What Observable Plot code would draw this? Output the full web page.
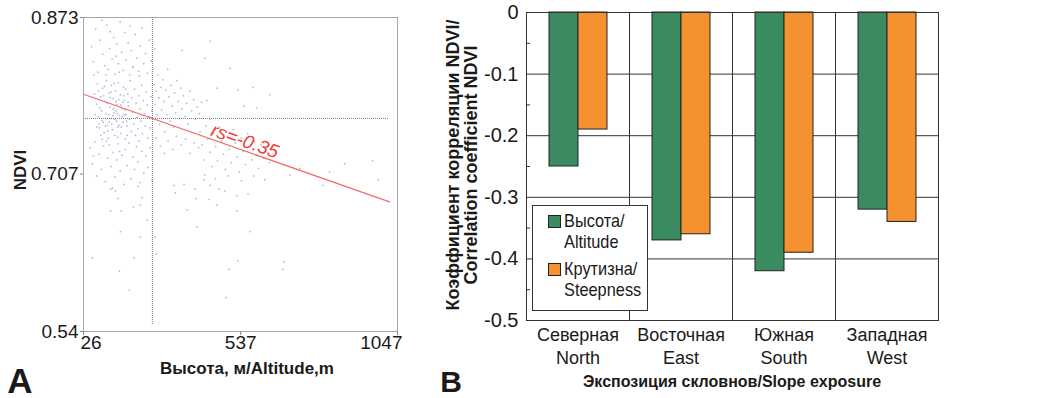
<!DOCTYPE html>
<html><head><meta charset="utf-8">
<script src="https://cdn.jsdelivr.net/npm/d3@7"></script>
<script src="https://cdn.jsdelivr.net/npm/@observablehq/plot@0.6"></script>
<style>
body{margin:0;background:#fff;}
#wrap{position:relative;width:1051px;height:398px;overflow:hidden;font-family:"Liberation Sans",Arial,sans-serif;color:#1a1a1a;}
.pa,.pb{position:absolute;top:0;}
.pa{left:0;} .pb{left:420px;}
.lbl{position:absolute;white-space:nowrap;transform:translate(-50%,-50%);line-height:1;}
.rot{transform:translate(-50%,-50%) rotate(-90deg);}
.b{font-weight:bold;}
.legend{position:absolute;left:532px;top:205px;width:114px;height:104px;border:1px solid #333;background:#fff;font-size:19px;line-height:21px;}
.sw{position:absolute;left:15px;width:11px;height:11px;border:1px solid #222;}
.lt{position:absolute;left:31px;transform:scaleX(0.86);transform-origin:0 0;white-space:nowrap;}
</style></head><body><div id="wrap"></div>
<script>
// ---------- Panel A data ----------
const xTicksA = [26, 537, 1047];
const yTicksA = [0.54, 0.707, 0.873];
const meanAltitude = 250;
const meanNdvi = 0.766;
const regression = [[26, 0.7916], [1021, 0.6774]];
const rsLabel = "rs=-0.35";
const samples = [
[62,.792],[68,.781],[71,.803],[75,.768],[78,.756],[82,.789],[85,.774],[88,.798],[90,.762],[93,.751],[96,.784],[99,.771],[101,.806],[104,.759],[107,.745],[109,.793],[112,.778],[115,.766],[117,.801],[120,.754],[122,.787],[125,.772],[127,.748],[130,.795],[133,.763],[135,.781],[138,.757],[140,.804],[143,.769],[146,.791],[148,.750],[151,.776],[154,.762],[156,.799],[159,.785],[162,.744],[164,.770],[167,.758],[170,.792],[172,.779],[175,.765],[178,.806],[181,.752],[183,.788],[186,.773],[189,.760],[192,.797],[195,.748],[197,.782],[200,.767],[203,.755],[206,.790],[209,.776],[212,.763],[215,.801],[218,.750],[221,.785],[224,.771],[227,.758],[230,.794],[233,.780],[236,.745],[239,.768],[242,.756],[245,.789],[248,.774],
[74,.795],[79,.777],[86,.764],[92,.790],[97,.758],[103,.782],[108,.770],[113,.788],[118,.760],[123,.776],[128,.765],[132,.784],[137,.771],[142,.759],[147,.780],[152,.768],[157,.790],[161,.775],[166,.763],[171,.783],[76,.760],[83,.748],[94,.800],[105,.753],[116,.794],[126,.803],[136,.746],[149,.757],[158,.770],[168,.748],[64,.770],[70,.757],[87,.744],[98,.766],[110,.762],[121,.769],[131,.774],[141,.786],[153,.783],[163,.797],
[52,.842],[58,.826],[66,.861],[73,.815],[80,.849],[89,.834],[95,.822],[102,.865],[106,.818],[111,.840],[119,.829],[124,.852],[129,.813],[134,.845],[139,.824],[145,.868],[150,.836],[155,.817],[160,.857],[165,.828],[171,.846],[176,.812],[182,.838],[188,.821],[194,.855],[199,.830],[205,.816],[211,.843],[216,.862],[222,.824],[228,.835],[234,.814],[240,.849],[246,.827],[253,.818],[258,.840],[87,.870],[113,.858],[142,.815],[177,.864],[208,.811],[60,.812],[99,.812],[132,.832],[186,.820],
[255,.802],[258,.781],[262,.795],[265,.770],[268,.812],[271,.788],[274,.760],[277,.799],[280,.775],[284,.807],[287,.784],[290,.752],[293,.796],[297,.770],[300,.818],[304,.789],[308,.763],[311,.801],[315,.779],[319,.757],[322,.793],[326,.772],[330,.806],[334,.784],[338,.766],[342,.798],[346,.776],[351,.790],[356,.768],[361,.782],[366,.760],[372,.795],[378,.774],[384,.786],[390,.765],[396,.778],[403,.771],[410,.783],[416,.766],[262,.745],[276,.737],[289,.729],[301,.742],[316,.733],[328,.747],[344,.738],[358,.744],[372,.729],[386,.740],[400,.735],
[48,.735],[55,.718],[63,.741],[69,.705],[77,.728],[84,.712],[91,.737],[97,.699],[104,.724],[110,.738],[116,.715],[122,.730],[128,.704],[134,.722],[139,.739],[145,.710],[151,.727],[157,.696],[162,.733],[168,.716],[174,.740],[180,.702],[186,.725],[192,.712],[198,.736],[204,.720],[210,.698],[216,.731],[222,.708],[229,.726],[236,.714],[243,.735],[249,.700],[58,.726],[101,.742],[143,.731],[207,.742],[120,.692],
[405,.752],[412,.738],[418,.722],[424,.758],[430,.744],[437,.730],[443,.715],[449,.750],[456,.736],[462,.721],[468,.757],[475,.742],[481,.728],[487,.712],[494,.747],[500,.733],[507,.719],[513,.754],[520,.740],[526,.725],[533,.709],[539,.745],[546,.731],[553,.717],[560,.750],[567,.736],[574,.722],[581,.741],[588,.727],[595,.713],[603,.738],[611,.724],[620,.734],[631,.719],[420,.706],[455,.702],[497,.705],[540,.700],[580,.705],[438,.765],
[438,.848],[421,.830],[347,.838],[460,.798],[548,.779],[590,.777],[622,.736],[502,.819],[528,.796],[577,.799],[428,.785],[632,.791],
[114,.691],[130,.689],[139,.681],[204,.694],[217,.682],[188,.672],[211,.674],[114,.668],[149,.668],[233,.658],[146,.646],[211,.640],[321,.695],[324,.687],[353,.696],[363,.669],[55,.618],[191,.618],[143,.604],[175,.584],[263,.622],[259,.640],[418,.701],[438,.695],[389,.691],[467,.691],[486,.689],[392,.681],[434,.680],[460,.674],[525,.684],[561,.686],[525,.668],[395,.651],[567,.646],[528,.615],[499,.606],[677,.614],[674,.606],[489,.576],[804,.695],[985,.701],[826,.709],[966,.721],[875,.718],[697,.706],[729,.713],[616,.701]
];

// ---------- Panel B data ----------
const exposures = ["Северная\nNorth", "Восточная\nEast", "Южная\nSouth", "Западная\nWest"];
const factors = ["Высота/ Altitude", "Крутизна/ Steepness"];
const altitudeR = [-0.25, -0.37, -0.42, -0.32];
const steepnessR = [-0.19, -0.36, -0.39, -0.34];
const yTicksB = [0, -0.1, -0.2, -0.3, -0.4, -0.5];
const yMinorB = [-0.05, -0.15, -0.25, -0.35, -0.45];
const factorColors = ["#3a8c60", "#f5922f"];

const wrap = document.getElementById("wrap");
const font = '"Liberation Sans", Arial, sans-serif';

// ---------- Panel A ----------
const pts = samples.map(([a, n]) => ({a, n}));
const plotA = Plot.plot({
  width: 420, height: 398,
  marginLeft: 83, marginRight: 23, marginTop: 17, marginBottom: 67,
  style: {fontFamily: font, background: "transparent", color: "#1a1a1a", overflow: "visible"},
  x: {domain: [26, 1047]},
  y: {domain: [0.54, 0.873]},
  marks: [
    Plot.dot(pts, {x: "a", y: "n", r: 0.85, fill: "#9e9edc", fillOpacity: 0.8}),
    Plot.ruleX([meanAltitude], {y1: 0.873, y2: 0.547, stroke: "#777", strokeDasharray: "1,1"}),
    Plot.ruleY([meanNdvi], {x1: 26, x2: 1021, stroke: "#777", strokeDasharray: "1,1"}),
    Plot.line(regression, {x: d => d[0], y: d => d[1], stroke: "#f26b6b", strokeWidth: 1.2}),
    Plot.text([rsLabel], {x: 551, y: 0.7313, text: d => d, rotate: 19.4, dy: -10, fill: "#f23a3a", fontSize: 19, fontStyle: "italic"}),
    Plot.frame({stroke: "#a8a8a8"}),
    Plot.axisY({ticks: yTicksA, tickFormat: d => String(d), tickSize: 3, tickPadding: 2, fontSize: 19, label: null, stroke: "#888"}),
    Plot.axisX({ticks: xTicksA, tickFormat: () => "", tickSize: 4, label: null, stroke: "#888"}),
    Plot.text([xTicksA[0]], {x: d => d, frameAnchor: "bottom", text: d => String(d), textAnchor: "start", dx: -3, dy: 17, fontSize: 19}),
    Plot.text([xTicksA[1]], {x: d => d, frameAnchor: "bottom", text: d => String(d), textAnchor: "middle", dy: 17, fontSize: 19}),
    Plot.text([xTicksA[2]], {x: d => d, frameAnchor: "bottom", text: d => String(d), textAnchor: "end", dx: 5, dy: 17, fontSize: 19})
  ]
});
plotA.classList.add("pa");
wrap.appendChild(plotA);

// ---------- Panel B ----------
const rows = [];
exposures.forEach((e, i) => {
  rows.push({exposure: e, factor: factors[0], r: altitudeR[i]});
  rows.push({exposure: e, factor: factors[1], r: steepnessR[i]});
});
const plotB = Plot.plot({
  width: 631, height: 398,
  marginLeft: 106, marginRight: 113, marginTop: 12, marginBottom: 78,
  style: {fontFamily: font, background: "transparent", color: "#1a1a1a", overflow: "visible"},
  fx: {domain: exposures, padding: 0, axis: null},
  x: {domain: factors, paddingInner: 0, paddingOuter: 0.75, axis: null},
  y: {domain: [-0.5, 0], axis: null},
  color: {domain: factors, range: factorColors},
  marks: [
    Plot.ruleY([-0.1, -0.2, -0.3, -0.4], {stroke: "#333", strokeWidth: 1}),
    Plot.barY(rows, {fx: "exposure", x: "factor", y: "r", fill: "factor", stroke: "#222", strokeWidth: 1}),
    Plot.frame({stroke: "#333", strokeWidth: 1}),
    Plot.axisY({ticks: yTicksB, tickFormat: d => d === 0 ? "0" : d.toFixed(1), tickSize: 0, tickPadding: 8, fontSize: 20, label: null}),
    Plot.axisY({ticks: yMinorB, tickFormat: () => "", tickSize: -4, label: null, stroke: "#333"}),
    Plot.axisFx({anchor: "bottom", tickSize: 0, tickPadding: 5, fontSize: 18, lineHeight: 1.25, label: null, fontStretch: "condensed", transform: null})
  ]
});
plotB.classList.add("pb");
wrap.appendChild(plotB);

// ---------- HTML text ----------
function addLabel(text, x, y, cls, style) {
  const d = document.createElement("div");
  d.className = "lbl " + (cls || "");
  d.style.left = x + "px"; d.style.top = y + "px";
  if (style) Object.assign(d.style, style);
  d.textContent = text;
  wrap.appendChild(d);
}
addLabel("NDVI", 20, 170, "b rot", {fontSize: "17px"});
addLabel("Высота, м/Altitude,m", 247, 368, "b", {fontSize: "17px"});
addLabel("A", 20, 380, "b", {fontSize: "35px"});
addLabel("B", 451, 382, "b", {fontSize: "30px"});
addLabel("Экспозиция скловнов/Slope exposure", 732, 382, "b", {fontSize: "16px"});
addLabel("Коэффициент корреляции NDVI/", 453, 165, "b rot", {fontSize: "18px"});
addLabel("Correlation coefficient NDVI", 471, 165, "b rot", {fontSize: "18px"});

// legend
const lg = document.createElement("div");
lg.className = "legend";
factors.forEach((f, i) => {
  const [l1, l2] = f.split(" ");
  const sw = document.createElement("div");
  sw.className = "sw";
  sw.style.top = (i === 0 ? 9 : 57) + "px";
  sw.style.background = factorColors[i];
  lg.appendChild(sw);
  const t = document.createElement("div");
  t.className = "lt";
  t.style.top = (i === 0 ? 4 : 52) + "px";
  t.innerHTML = l1 + "<br>" + l2;
  lg.appendChild(t);
});
wrap.appendChild(lg);
</script>
</body></html>
